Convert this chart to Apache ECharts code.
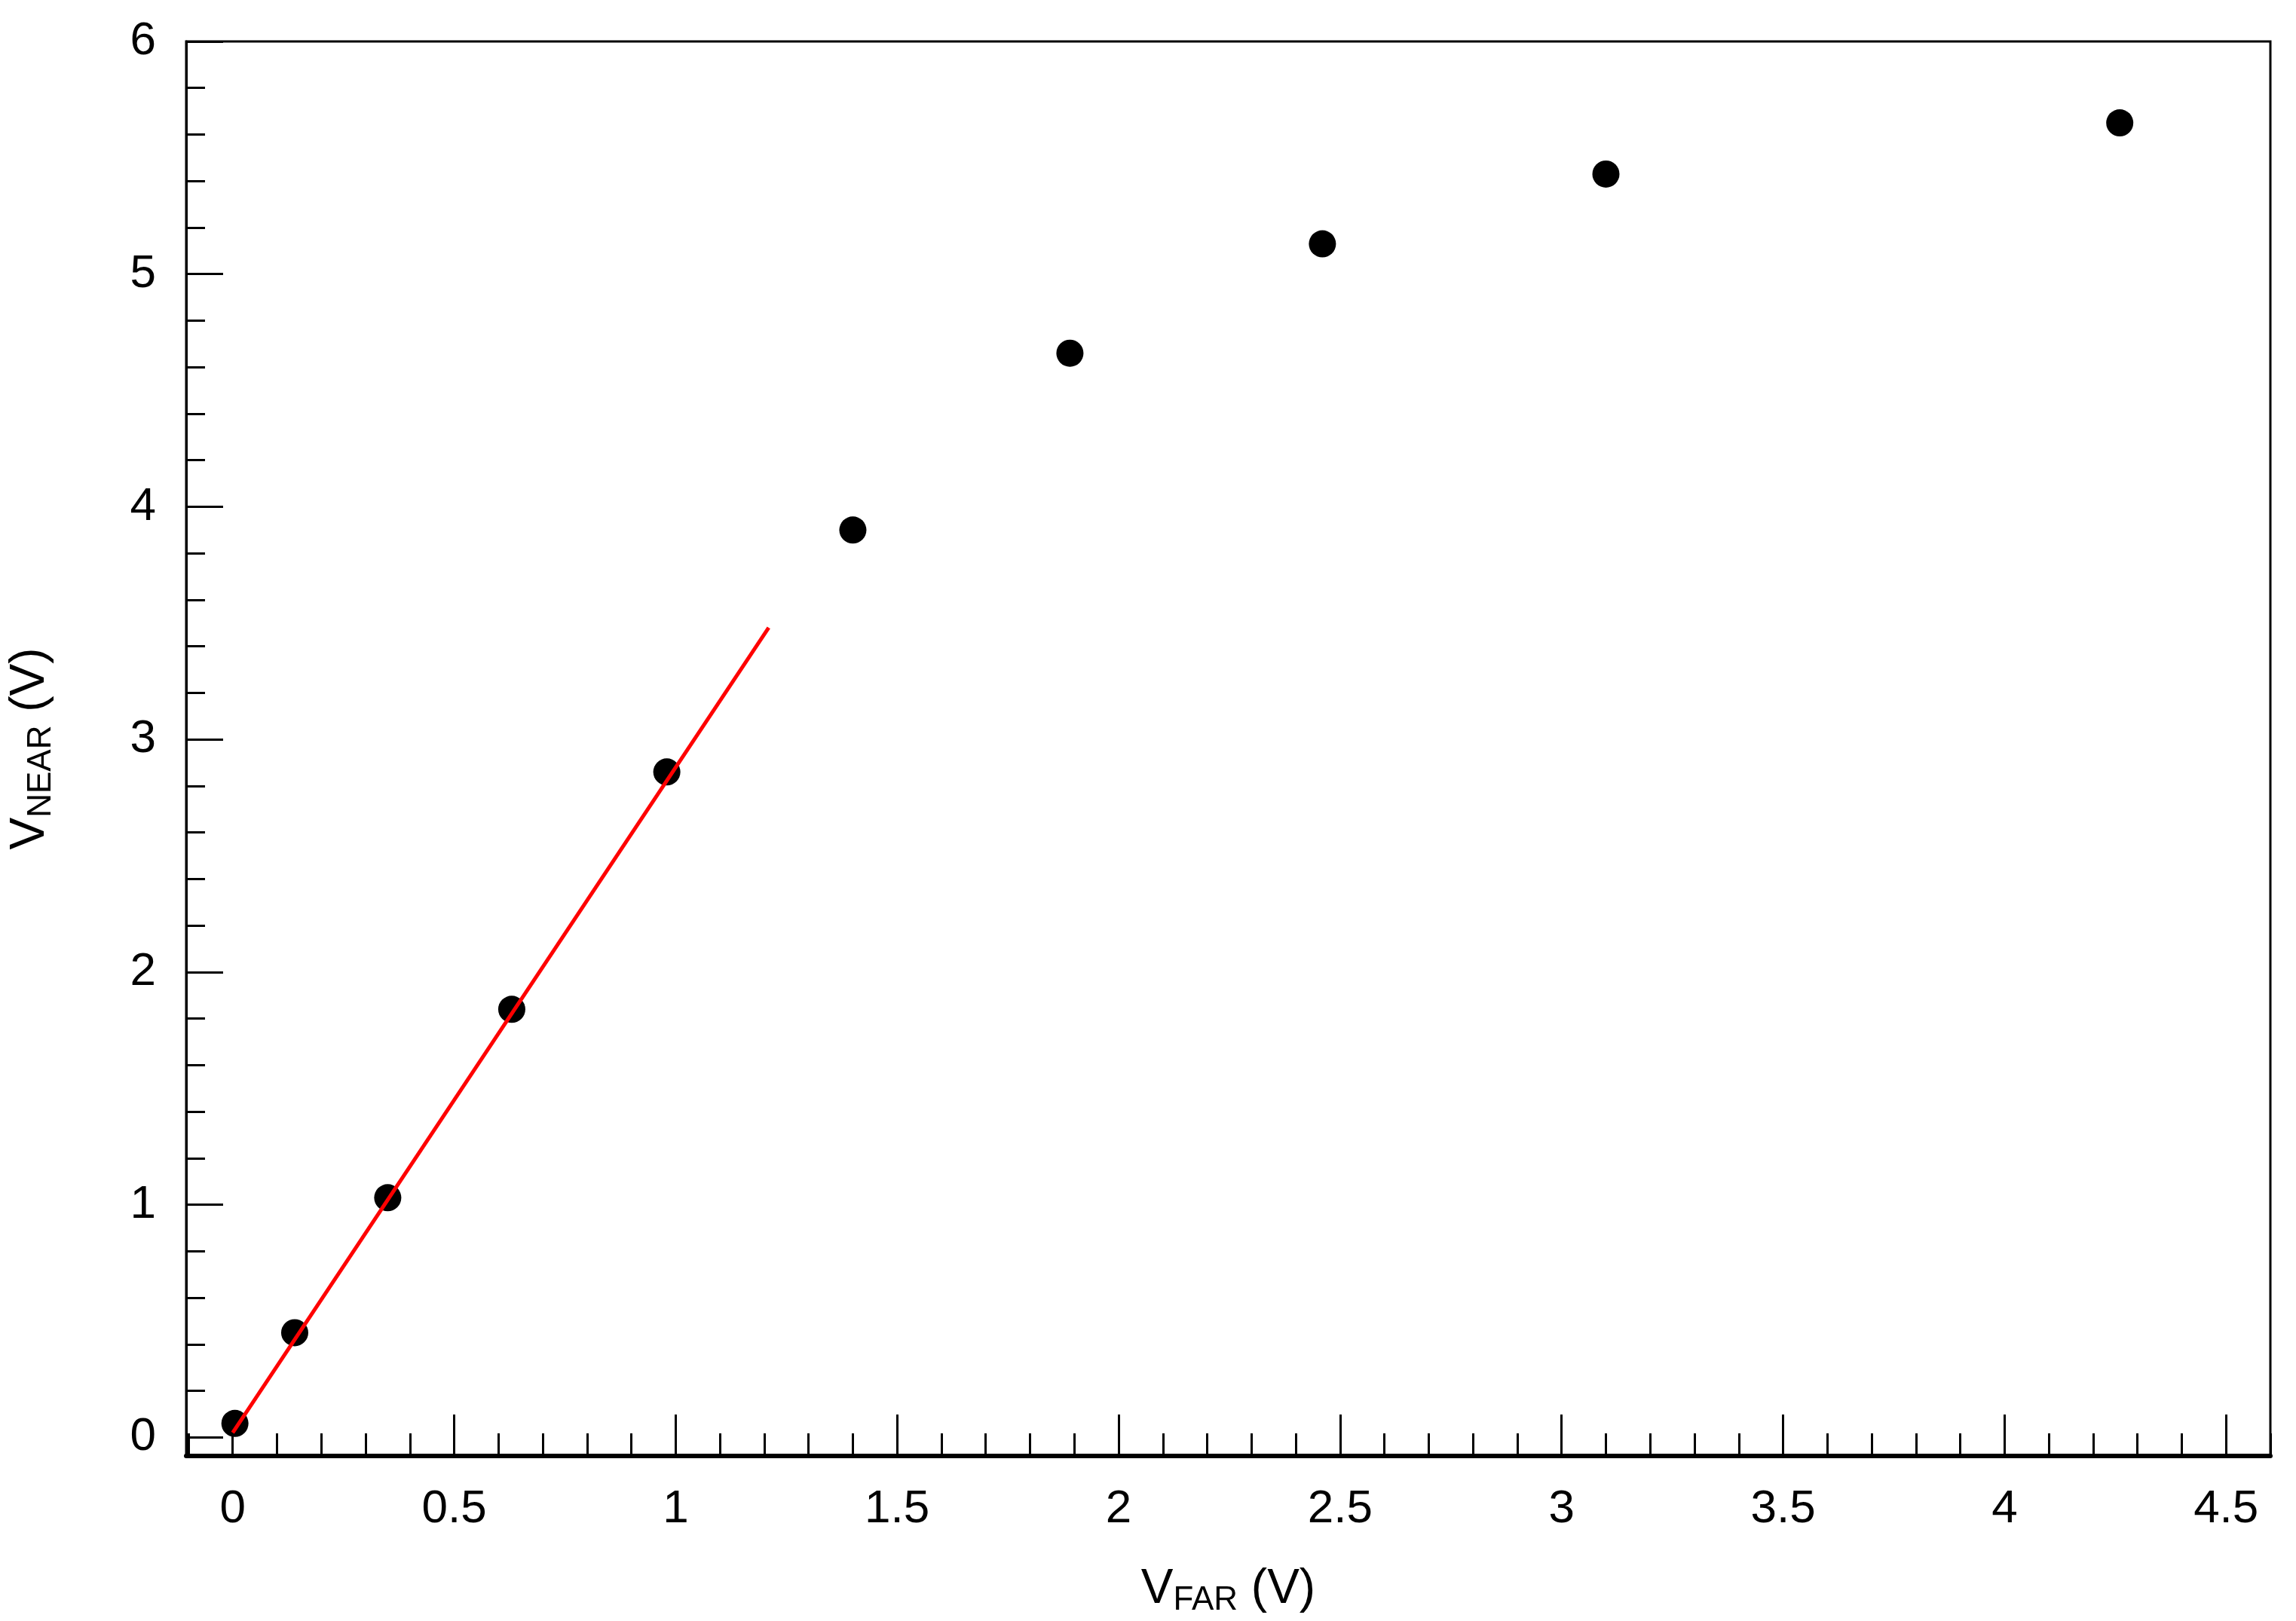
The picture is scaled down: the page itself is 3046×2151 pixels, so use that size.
<!DOCTYPE html>
<html lang="en">
<head>
<meta charset="UTF-8">
<title>VNEAR vs VFAR</title>
<script src="https://cdn.jsdelivr.net/npm/echarts@6.0.0/dist/echarts.min.js"></script>
<style>html,body{margin:0;background:#fff}#chart{width:3046px;height:2151px}</style>
</head>
<body>
<div id="chart"></div>
<script>
// measured points
var vFar = [0.005, 0.14, 0.35, 0.63, 0.98, 1.40, 1.89, 2.46, 3.10, 4.26];
var vNear = [0.06, 0.45, 1.03, 1.84, 2.86, 3.90, 4.66, 5.13, 5.43, 5.65];
// linear fit (red)
var fitX = [0.0, 1.21];
var fitY = [0.02, 3.48];
// tick positions
var xMajor = [0, 0.5, 1, 1.5, 2, 2.5, 3, 3.5, 4, 4.5];
var yMajor = [0, 1, 2, 3, 4, 5, 6];

var xMinor = [], yMinor = [];
for (var i = -1; i <= 46; i++) xMinor.push(+(i * 0.1).toFixed(2));
for (var j = 0; j <= 30; j++) yMinor.push(+(j * 0.2).toFixed(2));

var font = 'Liberation Sans';
var chart = echarts.init(document.getElementById('chart'));
var xCommon = { type: 'value', min: -0.105, max: 4.6, splitLine: { show: false } };
var yCommon = { type: 'value', min: -0.08, max: 6, splitLine: { show: false } };

chart.setOption({
    animation: false,
    grid: { left: 243, right: 34, top: 55, bottom: 210, show: true, borderColor: '#000', borderWidth: 3 },
    xAxis: [
        Object.assign({}, xCommon, {
            axisLine: { onZero: false, lineStyle: { color: '#000', width: 6 } },
            axisTick: { inside: true, length: 55, lineStyle: { color: '#000', width: 3 }, customValues: xMajor },
            axisLabel: { customValues: xMajor, color: '#000', fontSize: 62, fontFamily: font, margin: 40 },
            name: '{v|V}{s|FAR}{v| (V)}',
            nameLocation: 'middle', nameGap: 140,
            nameTextStyle: { rich: {
                v: { fontSize: 64, fontFamily: font, color: '#000' },
                s: { fontSize: 44, fontFamily: font, color: '#000', verticalAlign: 'bottom', padding: [30, 0, 0, 0] }
            } }
        }),
        Object.assign({}, xCommon, {
            position: 'bottom',
            axisLine: { show: false, onZero: false },
            axisTick: { inside: true, length: 30, lineStyle: { color: '#000', width: 3 }, customValues: xMinor },
            axisLabel: { show: false }
        })
    ],
    yAxis: [
        Object.assign({}, yCommon, {
            axisLine: { show: true, onZero: false, lineStyle: { color: '#000', width: 3 } },
            axisTick: { inside: true, length: 49, lineStyle: { color: '#000', width: 3 }, customValues: yMajor },
            axisLabel: { customValues: yMajor, color: '#000', fontSize: 62, fontFamily: font, margin: 40 },
            name: '{v|V}{s|NEAR}{v| (V)}',
            nameLocation: 'middle', nameGap: 170, nameRotate: 90,
            nameTextStyle: { rich: {
                v: { fontSize: 64, fontFamily: font, color: '#000' },
                s: { fontSize: 44, fontFamily: font, color: '#000', verticalAlign: 'bottom', padding: [30, 0, 0, 0] }
            } }
        }),
        Object.assign({}, yCommon, {
            position: 'left',
            axisLine: { show: false, onZero: false },
            axisTick: { inside: true, length: 25, lineStyle: { color: '#000', width: 3 }, customValues: yMinor },
            axisLabel: { show: false }
        })
    ],
    series: [
        {
            type: 'line',
            data: fitX.map(function (x, k) { return [x, fitY[k]]; }),
            symbol: 'none',
            lineStyle: { color: '#ff0000', width: 5 },
            z: 3
        },
        {
            type: 'scatter',
            data: vFar.map(function (x, k) { return [x, vNear[k]]; }),
            symbol: 'circle',
            symbolSize: 36,
            itemStyle: { color: '#000', opacity: 1 },
            z: 2
        }
    ]
});
</script>
</body>
</html>
